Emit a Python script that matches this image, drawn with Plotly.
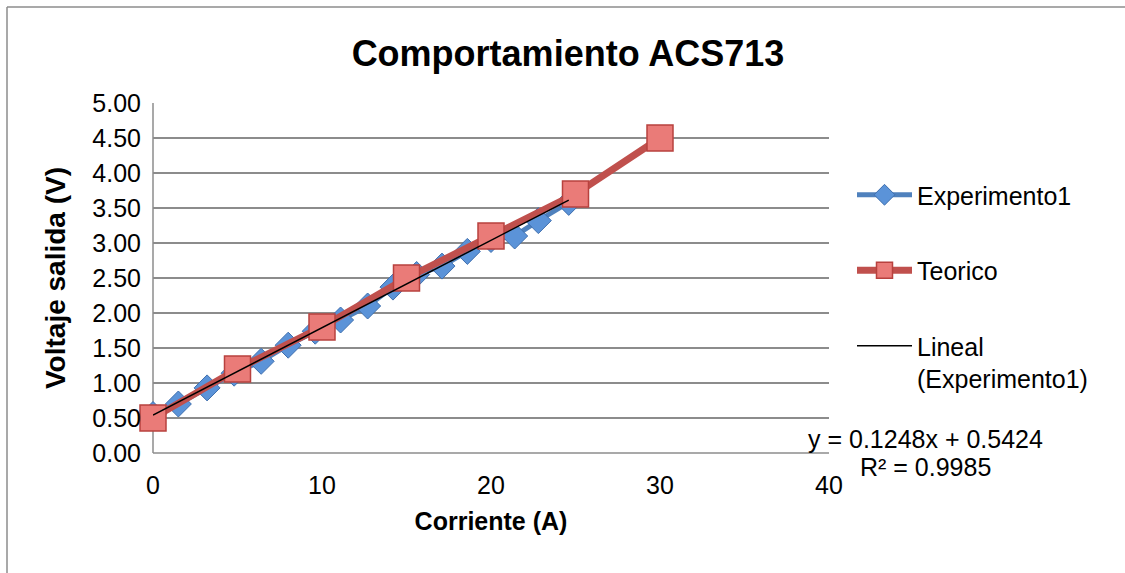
import plotly.graph_objects as go

exp_x = [0, 1.5, 3.2, 4.8, 6.4, 8.0, 9.6, 11.1, 12.7, 14.2, 15.6, 17.1, 18.6, 20.0, 21.4, 22.8, 24.6]
exp_y = [0.55, 0.70, 0.93, 1.14, 1.31, 1.54, 1.74, 1.90, 2.10, 2.37, 2.55, 2.67, 2.88, 3.05, 3.10, 3.32, 3.58]
teo_x = [0, 5, 10, 15, 20, 25, 30]
teo_y = [0.5, 1.2, 1.8, 2.5, 3.1, 3.7, 4.5]
slope, intercept = 0.1248, 0.5424
trend_x = [0, 24.6]
trend_y = [slope * v + intercept for v in trend_x]
y_ticks = [0, 0.5, 1, 1.5, 2, 2.5, 3, 3.5, 4, 4.5, 5]
x_ticks = [0, 10, 20, 30, 40]

FONT = "Liberation Sans, Arial, sans-serif"
L, R, T, B = 153, 829, 103, 453
PW, PH = R - L, B - T

def px(x):
    return (x - L) / PW

def py(y):
    return (B - y) / PH

fig = go.Figure()
fig.add_trace(go.Scatter(
    x=exp_x, y=exp_y, mode="lines+markers", name="Experimento1",
    line=dict(color="#4F81BD", width=5), cliponaxis=False,
    marker=dict(symbol="diamond", size=20, color="#5B93D8", line=dict(color="#3F6FAE", width=1)),
    legendgroup="a"))
fig.add_trace(go.Scatter(
    x=teo_x, y=teo_y, mode="lines+markers", name="Teorico",
    line=dict(color="#C0504D", width=7), cliponaxis=False,
    marker=dict(symbol="square", size=26, color="#EA7B78", line=dict(color="#B8413E", width=1.5)),
    legendgroup="b"))
fig.add_trace(go.Scatter(
    x=trend_x, y=trend_y, mode="lines", name="Lineal<br>(Experimento1)",
    line=dict(color="#000000", width=1.5), legendgroup="c"))

fig.update_layout(
    width=1125, height=573,
    margin=dict(l=L, r=1125 - R, t=T, b=573 - B),
    paper_bgcolor="white", plot_bgcolor="white",
    font=dict(family=FONT, color="black", size=25),
    title=dict(text="<b>Comportamiento ACS713</b>", x=568/1125, xanchor="center",
               y=1 - 53/573, yanchor="middle", font=dict(size=36, family=FONT)),
    showlegend=True,
    legend=dict(x=px(852), y=py(172), yanchor="top", xanchor="left",
                font=dict(size=25, family=FONT), valign="top",
                tracegroupgap=40, itemwidth=55, bgcolor="rgba(0,0,0,0)"),
    xaxis=dict(range=[0, 40], tickvals=x_ticks, ticktext=[str(v) for v in x_ticks],
               showgrid=False, zeroline=False, showline=False, ticks="",
               tickfont=dict(size=25), ticklabelstandoff=15,
               title=dict(text="<b>Corriente (A)</b>", font=dict(size=25), standoff=14)),
    yaxis=dict(range=[0, 5], tickvals=y_ticks, ticktext=[f"{v:.2f}" for v in y_ticks],
               showgrid=True, gridcolor="#8C8C8C", gridwidth=1.5, zeroline=False,
               showline=False, ticks="", tickfont=dict(size=25), ticklabelstandoff=11,
               title=dict(text="<b>Voltaje salida (V)</b>", font=dict(size=28), standoff=18)),
)

# plot-area frame lines (left & bottom)
fig.add_shape(type="line", xref="paper", yref="paper", x0=0, x1=0, y0=0, y1=1,
              line=dict(color="#8C8C8C", width=1.5), layer="below")
fig.add_shape(type="line", xref="paper", yref="paper", x0=0, x1=1, y0=0, y1=0,
              line=dict(color="#8C8C8C", width=1.5), layer="below")
# outer chart border (top & left visible)
fig.add_shape(type="line", xref="paper", yref="paper",
              x0=px(7), x1=px(1125), y0=py(7), y1=py(7),
              line=dict(color="#8C8C8C", width=1.5))
fig.add_shape(type="line", xref="paper", yref="paper",
              x0=px(7), x1=px(7), y0=py(7), y1=py(573),
              line=dict(color="#8C8C8C", width=1.5))

fig.add_annotation(xref="paper", yref="paper", x=px(925), y=py(439),
                   text="y = 0.1248x + 0.5424", showarrow=False, xanchor="center",
                   yanchor="middle", font=dict(size=25, family=FONT))
fig.add_annotation(xref="paper", yref="paper", x=px(925), y=py(467),
                   text="R² = 0.9985", showarrow=False, xanchor="center",
                   yanchor="middle", font=dict(size=25, family=FONT))

fig.write_html("out.html")
